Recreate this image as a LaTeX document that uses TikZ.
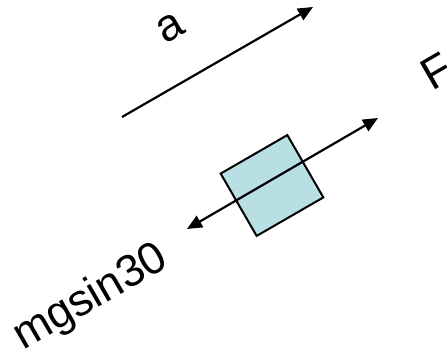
\documentclass[tikz,border=0pt]{standalone}
\usepackage{fontspec}
\setmainfont{Liberation Sans}
\usepackage{xcolor}
\usepackage{tikz}
\usetikzlibrary{arrows.meta}

\definecolor{blockfill}{RGB}{183,223,228}

\begin{document}
\begin{tikzpicture}[
      x=1pt, y=-1pt,
      lbl/.style={rotate=30, inner sep=0pt, font=\fontsize{45}{54}\selectfont},
      block/.style={draw, line width=2pt, fill=blockfill, rotate=30, minimum width=77pt, minimum height=72pt},
      arr/.style={line width=2.2pt, -{Triangle[length=15pt, width=13pt]}},
      darr/.style={line width=2.2pt, {Triangle[length=15pt, width=13pt]}-{Triangle[length=15pt, width=13pt]}}
    ]
    \useasboundingbox (0,0) rectangle (447,359);

    \coordinate (a0) at (122,117);
    \coordinate (a1) at (313,7);
    \node[lbl] (alab) at (170,28) {a};

    \node[block] (body) at (272,185.5) {};
    \coordinate (f0) at (187,229);
    \coordinate (f1) at (378,118);

    \node[lbl] (flab) at (437,71) {F};
    \node[lbl] (glab) at (91,298) {mgsin30};

    \draw[arr] (a0) -- (a1);
    \draw[darr] (f0) -- (f1);
  \end{tikzpicture}
\end{document}
